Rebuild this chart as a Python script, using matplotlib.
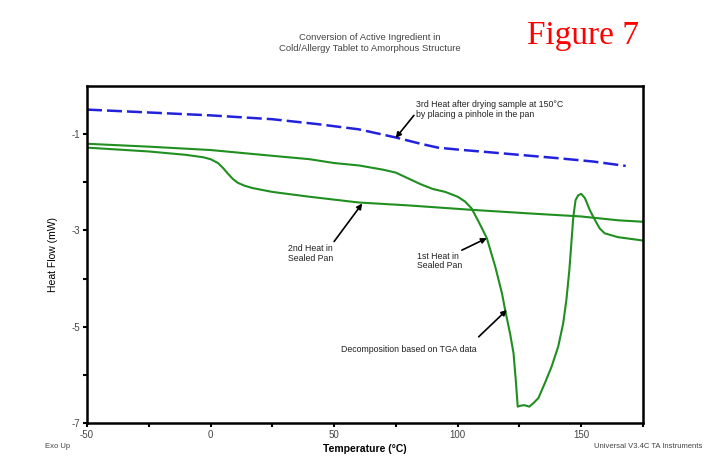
import numpy as np
import matplotlib
matplotlib.use('Agg')
from matplotlib import pyplot as plt

plt.rcParams['font.family'] = ['Liberation Sans', 'DejaVu Sans']
plt.rcParams['axes.unicode_minus'] = False

# data (temperature in C, heat flow in mW)
heat1_T = [-50, -25, 0, 25, 40, 50, 60, 70, 75, 80, 85, 90, 95, 100, 103, 105.6, 108.5,
           111.8, 115.2, 117.9, 119.2, 121.2, 122.6, 123.5, 124.3, 125.5, 127,
           129, 131, 132.7, 135.3, 138, 140.7, 142.7, 144, 145.2, 146.1, 146.8,
           147.7, 148.8, 150, 151.5, 153.5, 155.5, 157.5, 159.5, 164.9, 175]
heat1_Q = [-1.20, -1.26, -1.33, -1.45, -1.52, -1.60, -1.65, -1.74, -1.80, -1.92,
           -2.04, -2.14, -2.20, -2.30, -2.40, -2.54, -2.82, -3.16, -3.75, -4.30,
           -4.65, -5.14, -5.55, -6.10, -6.66, -6.64, -6.63, -6.66, -6.57, -6.48,
           -6.17, -5.83, -5.41, -4.93, -4.44, -3.82, -3.20, -2.72, -2.37, -2.27,
           -2.24, -2.33, -2.58, -2.78, -2.96, -3.06, -3.14, -3.21]

heat2_T = [-50, -25, -10, -3, 0, 3, 5, 7, 9, 11, 13.7, 17, 25, 40, 60, 80, 105,
           130, 150, 165, 175]
heat2_Q = [-1.28, -1.36, -1.43, -1.48, -1.52, -1.60, -1.70, -1.82, -1.93, -2.01,
           -2.07, -2.12, -2.20, -2.30, -2.42, -2.48, -2.57, -2.65, -2.71, -2.79,
           -2.82]

heat3_T = [-50, -25, 0, 25, 43, 60, 75, 85, 92, 100, 113.7, 125, 140.7, 155, 168]
heat3_Q = [-0.49, -0.55, -0.61, -0.69, -0.79, -0.90, -1.07, -1.20, -1.28, -1.32,
           -1.38, -1.43, -1.50, -1.57, -1.66]

fig = plt.figure(figsize=(7.14, 4.59), dpi=100)
ax = fig.add_axes([87/714, 1-423/459, 556/714, 337/459])

ax.plot(heat3_T, heat3_Q, color='#2222dd', lw=1.8, dashes=(6, 2))
ax.plot(heat2_T, heat2_Q, color='#1f8f1f', lw=1.5)
ax.plot(heat1_T, heat1_Q, color='#1f8f1f', lw=1.5)

ax.set_xlim(-50, 175)
ax.set_ylim(-7, 0)
ax.set_xticks([-50, 0, 50, 100, 150])
ax.set_xticks([-25, 25, 75, 125, 175], minor=True)
ax.set_yticks([-7, -5, -3, -1])
ax.set_yticks([-6, -4, -2], minor=True)
ax.tick_params(which='both', direction='out', length=3, width=1.5,
               labelsize=7, labelcolor='#444444', pad=2)
for s in ax.spines.values():
    s.set_linewidth(1.8)

ax.set_xlabel('Temperature (°C)', fontsize=7.5, fontweight='bold', labelpad=3)
ax.set_ylabel('Heat Flow (mW)', fontsize=7.5, labelpad=10)

arrow = dict(arrowstyle='-|>', color='black', lw=1.2, mutation_scale=8,
             shrinkA=0, shrinkB=0)
tsize = 6.3

ax.text(83.1, -0.3, '3rd Heat after drying sample at 150°C\nby placing a pinhole in the pan',
        fontsize=tsize, va='top', ha='left', color='#222222', linespacing=1.1)
ax.annotate('', xy=(74.9, -1.08), xytext=(82.3, -0.61), arrowprops=arrow)

ax.text(31.5, -3.28, '2nd Heat in\nSealed Pan', fontsize=tsize, va='top', ha='left',
        color='#222222', linespacing=1.1)
ax.annotate('', xy=(61.4, -2.44), xytext=(50, -3.23), arrowprops=arrow)

ax.text(83.5, -3.44, '1st Heat in\nSealed Pan', fontsize=tsize, va='top', ha='left',
        color='#222222', linespacing=1.1)
ax.annotate('', xy=(111.8, -3.16), xytext=(101.7, -3.41), arrowprops=arrow)

ax.text(52.7, -5.38, 'Decomposition based on TGA data', fontsize=tsize, va='top',
        ha='left', color='#222222')
ax.annotate('', xy=(119.9, -4.65), xytext=(108.5, -5.21), arrowprops=arrow)

fig.text(370/714, 1-43/459, 'Conversion of Active Ingredient in\nCold/Allergy Tablet to Amorphous Structure',
         fontsize=6.8, ha='center', va='center', color='#444444', linespacing=1.15)
fig.text(527/714, 1-44/459, 'Figure 7', fontsize=24, color='red',
         family='Liberation Serif', ha='left', va='baseline')
fig.text(45/714, 1-447/459, 'Exo Up', fontsize=5.5, color='#444444', va='center')
fig.text(702/714, 1-446/459, 'Universal V3.4C TA Instruments', fontsize=5.5,
         color='#444444', va='center', ha='right')

fig.savefig('out.png', dpi=100)
